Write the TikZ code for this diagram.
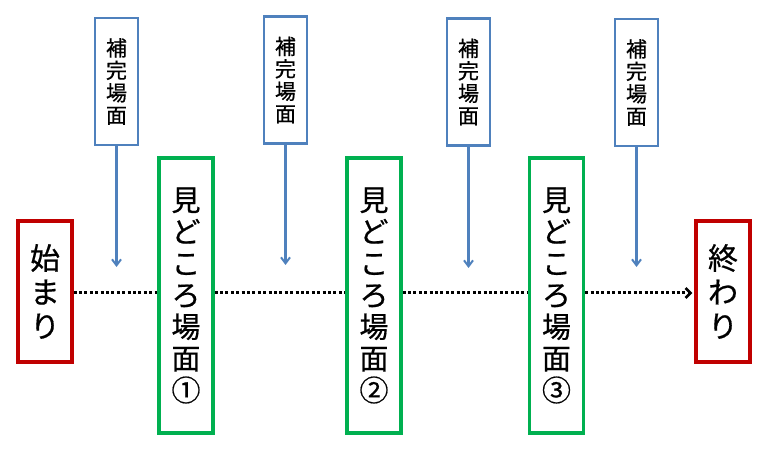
\documentclass[tikz,border=0pt]{standalone}
\usepackage{fontspec}
\newfontfamily\jp[FakeBold=0.6]{Noto Sans CJK JP}
\usetikzlibrary{arrows.meta}
\definecolor{endred}{RGB}{192,0,0}
\definecolor{scenegreen}{RGB}{0,176,80}
\definecolor{subblue}{RGB}{79,129,189}
\begin{document}
\begin{tikzpicture}[x=1pt,y=1pt,
  endbox/.style={draw=endred,line width=3.3pt,minimum width=54pt,minimum height=141pt,inner sep=0pt,align=center,font=\jp\fontsize{30}{34}\selectfont},
  scenebox/.style={draw=scenegreen,line width=3.3pt,minimum width=54pt,minimum height=275pt,inner sep=0pt,align=center,font=\jp\fontsize{29}{31.7}\selectfont},
  subbox/.style={draw=subblue,line width=2.3pt,minimum width=43pt,minimum height=127pt,inner sep=0pt,align=center,font=\jp\fontsize{21}{22.4}\selectfont},
  subarrow/.style={draw=subblue,line width=2.2pt,-{Straight Barb[length=6pt,width=9pt,line width=2pt]}},
  flow/.style={line width=3pt,dash pattern=on 3pt off 2.4pt},
  flowarrow/.style={flow,-{Straight Barb[length=5pt,width=10pt,line width=2.6pt]}}
]
\useasboundingbox (0,0) rectangle (774,464);
\node[endbox] (r1) at (45,172.5) {始\\ま\\り};
\node[scenebox] (g1) at (186,168.5) {見\\ど\\こ\\ろ\\場\\面\\①};
\node[scenebox] (g2) at (374,168.5) {見\\ど\\こ\\ろ\\場\\面\\②};
\node[scenebox] (g3) at (556.5,168.5) {見\\ど\\こ\\ろ\\場\\面\\③};
\node[endbox] (r2) at (723,172.5) {終\\わ\\り};
\node[subbox] (b1) at (116.5,382.5) {補\\完\\場\\面};
\node[subbox] (b2) at (285.5,384) {補\\完\\場\\面};
\node[subbox] (b3) at (468.5,382) {補\\完\\場\\面};
\node[subbox] (b4) at (636.5,381.5) {補\\完\\場\\面};
\coordinate (line) at (0,171);
\coordinate (t1) at (116.5,197);
\coordinate (t2) at (285.5,199);
\coordinate (t3) at (468.5,196);
\coordinate (t4) at (636.5,197);
\draw[subarrow] (b1.south) -- (t1);
\draw[subarrow] (b2.south) -- (t2);
\draw[subarrow] (b3.south) -- (t3);
\draw[subarrow] (b4.south) -- (t4);
\draw[flow] (r1.east |- line) -- (g1.west |- line);
\draw[flow] (g1.east |- line) -- (g2.west |- line);
\draw[flow] (g2.east |- line) -- (g3.west |- line);
\draw[flowarrow] (g3.east |- line) -- ([xshift=-2pt]r2.west |- line);
\end{tikzpicture}
\end{document}
